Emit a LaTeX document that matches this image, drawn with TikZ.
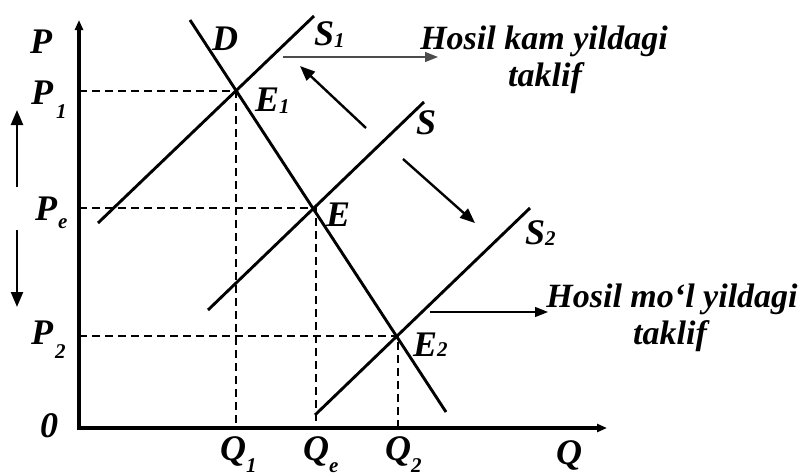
\documentclass[tikz,border=0pt]{standalone}
\usepackage{fontspec}
\setmainfont{Liberation Serif}
\usetikzlibrary{arrows.meta}
\newcommand{\subf}{\fontsize{21}{22}\selectfont}
\begin{document}
\begin{tikzpicture}[x=1pt,y=-1pt,
  curve/.style={line width=2.9pt},
  axisline/.style={line width=3.2pt},
  guide/.style={line width=2.4pt, dash pattern=on 8pt off 5pt},
  lbl/.style={font=\fontsize{36}{38}\selectfont\bfseries\itshape, inner sep=0pt, anchor=base west},
  note/.style={font=\fontsize{34}{36}\selectfont\bfseries\itshape, inner sep=0pt, anchor=base},
  thinarrow/.style={line width=1.3pt, -{Triangle[length=13pt,width=10pt]}},
  shiftarrow/.style={line width=2.4pt, -{Triangle[length=15pt,width=12pt]}},
  axisarrow/.style={-{Triangle[length=10pt,width=8pt]}}]
\useasboundingbox (0,0) rectangle (802,475);

% coordinates
\coordinate (O) at (79,428);
\coordinate (Ytop) at (79,20);
\coordinate (Xend) at (607,428);
\coordinate (E1) at (236,91);
\coordinate (E) at (315,208);
\coordinate (E2) at (398,336);
\coordinate (P1a) at (79,91);
\coordinate (Pea) at (79,208);
\coordinate (P2a) at (79,336);
\coordinate (Q1a) at (236,428);
\coordinate (Qea) at (316,428);
\coordinate (Q2a) at (398,428);
\coordinate (Ea) at (316,208);
\coordinate (Dtop) at (190,20);
\coordinate (Dbot) at (446,412);
\coordinate (S1lo) at (98,223);
\coordinate (S1hi) at (314,16);
\coordinate (Slo) at (208,310);
\coordinate (Shi) at (424,102);
\coordinate (S2lo) at (315,415);
\coordinate (S2hi) at (530,208);

% dashed guides
\draw[guide] (P1a) -- (E1) -- (Q1a);
\draw[guide] (Pea) -- (Ea) -- (Qea);
\draw[guide] (P2a) -- (E2) -- (Q2a);

% axes
\draw[axisline, axisarrow] (O) -- (Ytop);
\draw[axisline, axisarrow] ([xshift=-1.6pt]O) -- (Xend);

% curves
\draw[curve] (Dtop) -- (Dbot);
\draw[curve] (S1lo) -- (S1hi);
\draw[curve] (Slo) -- (Shi);
\draw[curve] (S2lo) -- (S2hi);

% labels
\node[lbl] (lP) at (30,53) {P};
\node[lbl] (lP1) at (31,104) {P\hspace{3pt}\raisebox{-14pt}{\subf 1}};
\node[lbl] (lPe) at (35,220) {P\hspace{1pt}\raisebox{-8pt}{\subf e}};
\node[lbl] (lP2) at (31,344) {P\hspace{2pt}\raisebox{-14pt}{\subf 2}};
\node[lbl] (l0) at (40,437) {0};
\node[lbl] (lQ1) at (220,460) {Q\raisebox{-12pt}{\subf 1}};
\node[lbl] (lQe) at (303,460) {Q\raisebox{-12pt}{\subf e}};
\node[lbl] (lQ2) at (385,460) {Q\raisebox{-12pt}{\subf 2}};
\node[lbl] (lQ) at (556,464) {Q};
\node[lbl] (lD) at (212,50) {D};
\node[lbl] (lS1) at (314,45) {S\raisebox{-2pt}{\subf 1}};
\node[lbl] (lE1) at (255,111) {E\raisebox{-2pt}{\subf 1}};
\node[lbl] (lE) at (326,226) {E};
\node[lbl] (lS) at (416,134) {S};
\node[lbl] (lS2) at (525,244) {S\raisebox{-1pt}{\subf 2}};
\node[lbl] (lE2) at (413,356) {E\raisebox{0pt}{\subf 2}};

% notes
\node[note] (n1a) at (544,49) {Hosil kam yildagi};
\node[note] (n1b) at (545,86) {taklif};
\node[note] (n2a) at (672,307) {Hosil mo‘l yildagi};
\node[note] (n2b) at (670,344) {taklif};

% arrows
\coordinate (a1s) at (283,57);
\coordinate (a1e) at (438,57);
\coordinate (a2s) at (430,312);
\coordinate (a2e) at (548,312);
\draw[thinarrow, black!70] (a1s) -- (a1e);
\draw[thinarrow] (a2s) -- (a2e);

\coordinate (b1s) at (366,128);
\coordinate (b1e) at (300,66);
\coordinate (b2s) at (403,159);
\coordinate (b2e) at (475,223);
\draw[shiftarrow] (b1s) -- (b1e);
\draw[shiftarrow] (b2s) -- (b2e);

\coordinate (c1s) at (17,187);
\coordinate (c1e) at (17,110);
\coordinate (c2s) at (17,230);
\coordinate (c2e) at (17,307);
\draw[shiftarrow] (c1s) -- (c1e);
\draw[shiftarrow] (c2s) -- (c2e);
\end{tikzpicture}
\end{document}
